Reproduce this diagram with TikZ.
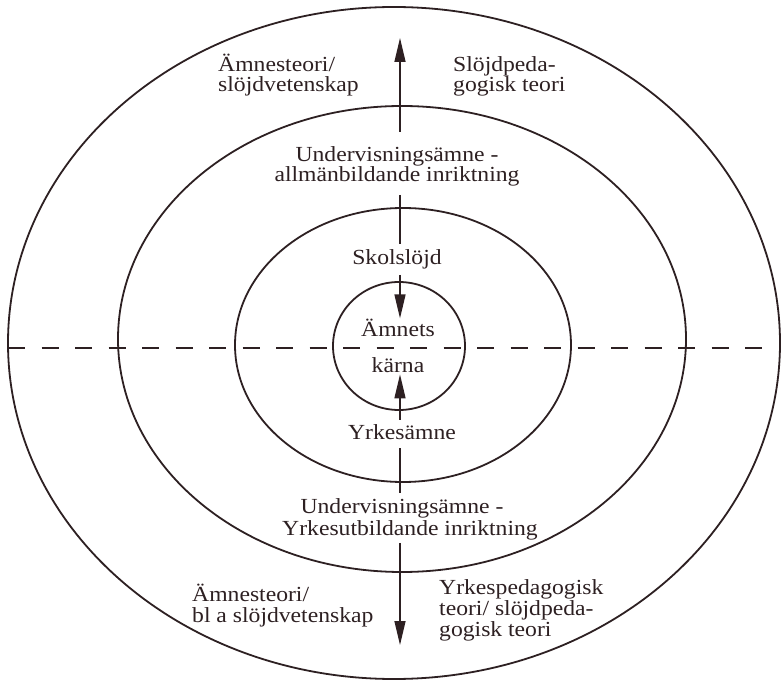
\documentclass[tikz,border=0pt]{standalone}
\usepackage{fontspec}
\setmainfont[FakeStretch=1.1]{Liberation Serif}
\usetikzlibrary{arrows.meta,calc}
\definecolor{ink}{RGB}{45,32,34}
\begin{document}
\begin{tikzpicture}[x=1pt,y=-1pt,
  ring/.style={draw=ink,line width=1.8pt},
  lbl/.style={text=ink,inner sep=0pt,font=\fontsize{21.5}{21}\selectfont},
  shaft/.style={draw=ink,line width=1.4pt},
  arr/.style={shaft,-{Triangle[length=24pt,width=11pt]}},
  dashline/.style={draw=ink,line width=1.8pt,dash pattern=on 17pt off 16.5pt}]
\useasboundingbox[fill=white] (0,0) rectangle (782,684);
% rings
\draw[ring] (394,343) ellipse [x radius=386pt, y radius=336pt];
\draw[ring] (402,339) ellipse [x radius=284pt, y radius=233pt];
\draw[ring] (403,345) ellipse [x radius=168pt, y radius=137pt];
\draw[ring] (399,346) ellipse [x radius=66pt, y radius=64pt];
% dashed divider
\coordinate (dl) at (8,348);
\coordinate (dr) at (762,348);
\draw[dashline] (dl) -- (dr);
% labels
\node[lbl,anchor=base west] (ul1) at (218,72) {Ämnesteori/};
\node[lbl,anchor=base west] (ul2) at (218,92) {slöjdvetenskap};
\node[lbl,anchor=base west] (ur1) at (453,72) {Slöjdpeda-};
\node[lbl,anchor=base west] (ur2) at (453,92) {gogisk teori};
\node[lbl,anchor=base] (ua1) at (397,162) {Undervisningsämne -};
\node[lbl,anchor=base] (ua2) at (397,182) {allmänbildande inriktning};
\node[lbl,anchor=base] (skol) at (397,265) {Skolslöjd};
\node[lbl,anchor=base] (k1) at (398,337) {Ämnets};
\node[lbl,anchor=base] (k2) at (398,373) {kärna};
\node[lbl,anchor=base] (yrk) at (402,439) {Yrkesämne};
\node[lbl,anchor=base] (uy1) at (402,513) {Undervisningsämne -};
\node[lbl,anchor=base] (uy2) at (410,535) {Yrkesutbildande inriktning};
\node[lbl,anchor=base west] (bl1) at (192,601) {Ämnesteori/};
\node[lbl,anchor=base west] (bl2) at (192,622) {bl a slöjdvetenskap};
\node[lbl,anchor=base west] (br1) at (439,594) {Yrkespedagogisk};
\node[lbl,anchor=base west] (br2) at (439,615) {teori/ slöjdpeda-};
\node[lbl,anchor=base west] (br3) at (439,636) {gogisk teori};
% axis arrows
\coordinate (axis) at (400,0);
\coordinate (toptip) at (400,38);
\coordinate (bottip) at (400,645);
\draw[arr] ($(axis |- ua1.north)+(0,-15)$) -- (toptip);
\draw[shaft] ($(axis |- ua2.south)+(0,8)$) -- ($(axis |- skol.north)+(0,-6)$);
\draw[arr] ($(axis |- skol.south)+(0,5)$) -- ($(axis |- k1.north)+(0,-1)$);
\draw[arr] ($(axis |- yrk.north)+(0,-4)$) -- ($(axis |- k2.south)+(0,1)$);
\draw[shaft] ($(axis |- yrk.south)+(0,9)$) -- ($(axis |- uy1.north)+(0,-5)$);
\draw[arr] ($(axis |- uy2.south)+(0,3)$) -- (bottip);
\end{tikzpicture}
\end{document}
